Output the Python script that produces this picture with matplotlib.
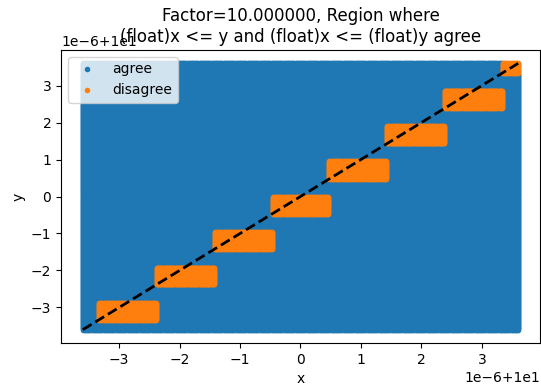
import numpy as np
import matplotlib
matplotlib.use("Agg")
import matplotlib.pyplot as plt

# values are offsets from 10, in units of 1e-6
base = 10.0
scale = 1e-6
grid_lo = -3.6
grid_hi = 3.6
grid_n = 400

# float32 values near 10 (centres of the disagree blocks) and half a step
block_centres = [-2.861, -1.907, -0.954, 0.0, 0.954, 1.907, 2.861, 3.815]
block_half = 0.477

title = "Factor=10.000000, Region where\n(float)x <= y and (float)x <= (float)y agree"

gx = np.linspace(grid_lo, grid_hi, grid_n)
X, Y = np.meshgrid(gx, gx)
X = X.ravel()
Y = Y.ravel()

disagree = np.zeros(X.shape, dtype=bool)
for c in block_centres:
    disagree |= (np.abs(X - c) <= block_half) & (Y >= c - block_half) & (Y < c)

fig = plt.figure(figsize=(5.41, 3.87), dpi=100)
ax = fig.add_axes([61 / 541, 44 / 387, 479 / 541, 293 / 387])

ax.plot(base + X[~disagree] * scale, base + Y[~disagree] * scale, ".", label="agree")
ax.plot(base + X[disagree] * scale, base + Y[disagree] * scale, ".", label="disagree")
ax.plot([base + grid_lo * scale, base + grid_hi * scale],
        [base + grid_lo * scale, base + grid_hi * scale], "k--", linewidth=2)

ax.set_xlabel("x")
ax.set_ylabel("y")
# fixed y so the title sits on the axes like the old layout (overlapping the offset text)
ax.set_title(title, y=1.0)
ax.legend(loc="upper left")

fig.savefig("out.png", dpi=100)
